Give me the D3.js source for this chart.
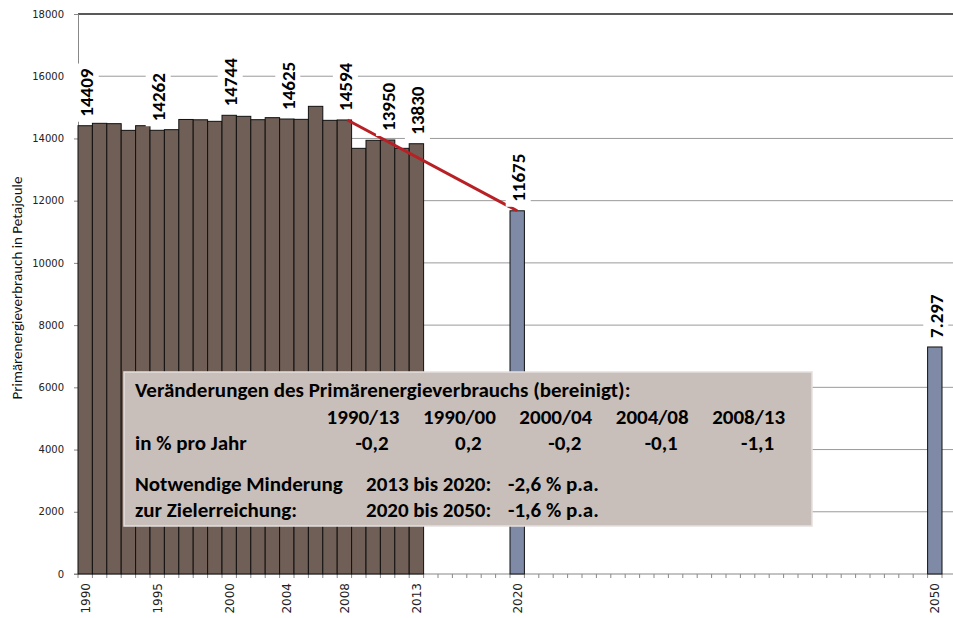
<!DOCTYPE html>
<html>
<head>
<meta charset="utf-8">
<script src="https://cdn.jsdelivr.net/npm/d3@7"></script>
<style>
  body { margin: 0; background: #fff; }
  svg { display: block; }
</style>
</head>
<body>
<svg id="chart"></svg>
<script>
// Primärenergieverbrauch, Ist-Werte 1990-2013 und Ziele 2020/2050
const histYears = [1990, 1991, 1992, 1993, 1994, 1995, 1996, 1997, 1998, 1999, 2000, 2001,
  2002, 2003, 2004, 2005, 2006, 2007, 2008, 2009, 2010, 2011, 2012, 2013];
const histValues = [14409, 14486, 14475, 14260, 14410, 14262, 14282, 14610, 14600, 14550, 14744, 14711,
  14603, 14668, 14625, 14614, 15032, 14582, 14594, 13682, 13940, 13950, 13682, 13830];
const emptyYears = [2014, 2015, 2016, 2017, 2018, 2019];
const targetYears = [2020, 2050];
const targetValues = [11675, 7297];
const tickLabels = ["1990", "1995", "2000", "2004", "2008", "2013", "2020", "2050"];
const labeledYears = [1990, 1995, 2000, 2004, 2008, 2011, 2013, 2020, 2050];
const yTicks = [0, 2000, 4000, 6000, 8000, 10000, 12000, 14000, 16000, 18000];

const periods = ["1990/13", "1990/00", "2000/04", "2004/08", "2008/13"];
const rates = ["-0,2", "0,2", "-0,2", "-0,1", "-1,1"];
const needRows = [
  ["Notwendige Minderung", "2013 bis 2020:", "-2,6 % p.a."],
  ["zur Zielerreichung:", "2020 bis 2050:", "-1,6 % p.a."]
];

// kategorien: 2021..2048 ohne Beschriftung, dann 2050 (wie im Original)
const gapYears = d3.range(2021, 2049);
const categories = [...histYears, ...emptyYears, 2020, ...gapYears, 2050];

const W = 953, H = 618;
const mLeft = 78, mTop = 14, mBottom = 574, plotRight = 942;

const svg = d3.select("#chart").attr("width", W).attr("height", H);

const x = d3.scaleBand().domain(categories).range([mLeft, plotRight]).paddingInner(0).paddingOuter(0);
const y = d3.scaleLinear().domain([0, 18000]).range([mBottom, mTop]);

const bars = [
  ...histYears.map((yr, i) => ({ year: yr, value: histValues[i], kind: "hist" })),
  ...targetYears.map((yr, i) => ({ year: yr, value: targetValues[i], kind: "target" }))
];

// gitternetz
svg.append("g")
  .selectAll("line")
  .data(yTicks.filter(d => d > 0))
  .join("line")
  .attr("x1", mLeft).attr("x2", W)
  .attr("y1", d => y(d)).attr("y2", d => y(d))
  .style("stroke", d => d === 18000 ? "#222" : "#9a9a9a")
  .style("stroke-width", d => d === 18000 ? 1.6 : 1);

// y-achse
const yAxis = svg.append("g")
  .attr("transform", `translate(${mLeft},0)`)
  .call(d3.axisLeft(y).tickValues(yTicks).tickFormat(d3.format("d")).tickSize(4).tickPadding(10));
yAxis.select(".domain").style("stroke", "#888");
yAxis.selectAll(".tick line").style("stroke", "#888");
yAxis.selectAll("text")
  .style("font-family", "'DejaVu Sans', Verdana, sans-serif")
  .style("font-size", "10px")
  .style("fill", "#222");

// x-achse
svg.append("line")
  .attr("x1", mLeft - 4).attr("x2", W)
  .attr("y1", mBottom).attr("y2", mBottom)
  .style("stroke", "#888").style("stroke-width", 1.2);

svg.append("g")
  .selectAll("line")
  .data(categories.concat(["end"]))
  .join("line")
  .attr("x1", (d, i) => mLeft + i * x.bandwidth())
  .attr("x2", (d, i) => mLeft + i * x.bandwidth())
  .attr("y1", mBottom).attr("y2", mBottom + 4)
  .style("stroke", "#888");

svg.append("g")
  .selectAll("text")
  .data(tickLabels)
  .join("text")
  .attr("transform", d => `translate(${x(+d) + x.bandwidth() / 2},583) rotate(-90)`)
  .attr("dy", "0.36em")
  .attr("text-anchor", "end")
  .style("font-family", "'DejaVu Sans', Verdana, sans-serif")
  .style("font-size", "12px")
  .style("fill", "#222")
  .text(d => d);

// balken
svg.append("g")
  .selectAll("rect")
  .data(bars)
  .join("rect")
  .attr("x", d => x(d.year))
  .attr("y", d => y(d.value))
  .attr("width", x.bandwidth())
  .attr("height", d => mBottom - y(d.value))
  .style("fill", d => d.kind === "hist" ? "#6f5f56" : "#7e8aa6")
  .style("stroke", "#111")
  .style("stroke-width", 1);

// trendlinie 2008 -> 2020
const v2008 = histValues[histYears.indexOf(2008)];
svg.append("line")
  .attr("x1", x(2008) + x.bandwidth() / 2 + 3).attr("y1", y(v2008))
  .attr("x2", x(2020) + x.bandwidth() / 2).attr("y2", y(targetValues[0]))
  .style("stroke", "#b82025")
  .style("stroke-width", 3);

// datenbeschriftungen
const deFormat = d3.formatLocale({ decimal: ",", thousands: ".", grouping: [3], currency: ["", " €"] }).format(",d");
const labelData = bars.filter(d => labeledYears.includes(d.year));
const lab = svg.append("g")
  .selectAll("g")
  .data(labelData)
  .join("g")
  .attr("transform", d => `translate(${x(d.year) + x.bandwidth() / 2 + 1},${y(d.value) - 9}) rotate(-90)`);
lab.append("text")
  .attr("dy", "0.36em")
  .style("font-family", "Carlito, Lato, sans-serif")
  .style("font-weight", "bold")
  .style("font-size", "19px")
  .style("fill", "#000")
  .text(d => d.year === 2050 ? deFormat(d.value) : d3.format("d")(d.value));
lab.insert("rect", "text")
  .attr("x", -5)
  .attr("y", -12.5)
  .attr("height", 25)
  .attr("width", function () { return this.parentNode.querySelector("text").getComputedTextLength() + 10; })
  .style("fill", "#fff");

// y-achsentitel
svg.append("text")
  .attr("transform", "translate(22,288) rotate(-90)")
  .attr("text-anchor", "middle")
  .style("font-family", "Carlito, Lato, sans-serif")
  .style("font-size", "15px")
  .style("fill", "#111")
  .text("Primärenergieverbrauch in Petajoule");

// textfeld
const box = svg.append("g");
box.append("rect")
  .attr("x", 124).attr("y", 372)
  .attr("width", 688).attr("height", 154)
  .style("fill", "#c9bfba")
  .style("stroke", "#e4e0de")
  .style("stroke-width", 1.5);

const boxFont = (sel) => sel
  .style("font-family", "Carlito, Lato, sans-serif")
  .style("font-weight", "bold")
  .style("font-size", "21px")
  .style("fill", "#000");

box.append("text").attr("x", 135).attr("y", 397)
  .call(boxFont)
  .text("Veränderungen des Primärenergieverbrauchs (bereinigt):");

box.append("g").selectAll("text")
  .data(periods)
  .join("text")
  .attr("x", (d, i) => 363 + i * 96.4)
  .attr("y", 424)
  .attr("text-anchor", "middle")
  .call(boxFont)
  .text(d => d);

box.append("text").attr("x", 135).attr("y", 450)
  .call(boxFont)
  .text("in % pro Jahr");

box.append("g").selectAll("text")
  .data(rates)
  .join("text")
  .attr("x", (d, i) => 372 + i * 96.4)
  .attr("y", 450)
  .attr("text-anchor", "middle")
  .call(boxFont)
  .text(d => d);

const needG = box.append("g").selectAll("g")
  .data(needRows)
  .join("g")
  .attr("transform", (d, i) => `translate(0,${491 + i * 26})`);
needG.append("text").attr("x", 135).call(boxFont).text(d => d[0]);
needG.append("text").attr("x", 366).call(boxFont).text(d => d[1]);
needG.append("text").attr("x", 508).call(boxFont).text(d => d[2]);
</script>
</body>
</html>
